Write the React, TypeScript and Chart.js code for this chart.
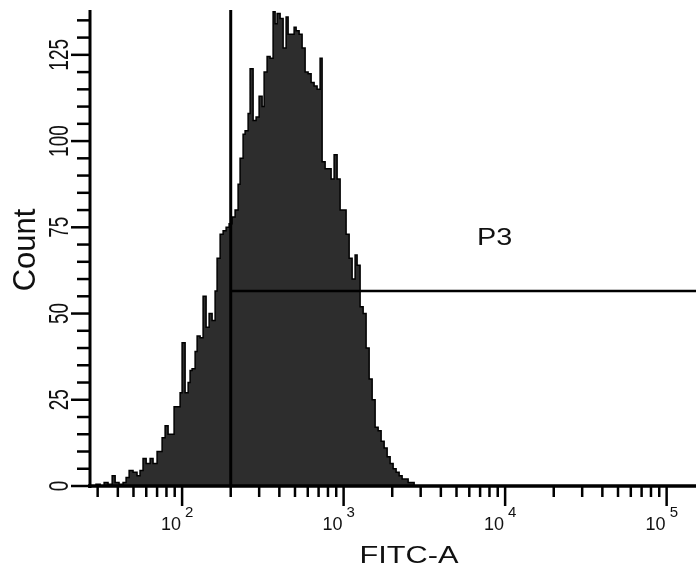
import { useEffect, useRef } from "react";
import { Chart, registerables } from "chart.js";

Chart.register(...registerables);

// FITC-A histogram: left edge of each bin (FITC units) and its event count
const fitcBinEdges = [
  27, 29.3, 31.1, 32.9, 34.8, 36.9, 38.5, 40.7, 43.1, 45, 47, 49.7, 52.6, 54.9, 57.3, 59.9,
  63.4, 66.1, 70, 72, 75.2, 78.5, 81.9, 85.5, 89.2, 93.1, 97.2, 100, 104.4, 109, 112.1, 115.3,
  120.4, 123.9, 129.3, 134.9, 140.8, 147, 153.4, 160.1, 164.7, 172, 179.5, 187.3, 195.5, 204,
  212.9, 222.2, 228.6, 238.6, 245.5, 256.3, 263.7, 275.2, 287.2, 299.8, 312.9, 322, 336, 350.7,
  366, 376.6, 387.5, 404.5, 422.1, 440.6, 453.3, 473.1, 493.8, 508.1, 530.3, 553.4, 577.6,
  602.8, 629.2, 656.6, 685.3, 715.3, 736, 768.2, 801.7, 836.8, 873.4, 911.5, 951.4, 993, 1036,
  1082, 1129, 1178, 1212, 1265, 1321, 1378, 1439, 1502, 1567, 1636, 1707, 1782, 1860, 1941,
  2026, 2114, 2207, 2303, 2404, 2509, 2618, 2733, 2852,
];
const counts = [
  0.5, 0, 0.5, 0, 1, 0.5, 3, 1, 0.5, 1, 2.5, 4.5, 4, 3, 4.5, 8,
  6.5, 8, 6.5, 10, 10, 14, 17.5, 15, 15, 23, 23, 27, 41.5, 27, 30, 33.5,
  34, 39, 43.5, 43, 55, 46, 50, 48, 56.5, 66, 73, 74, 75, 76,
  78, 80, 87.5, 95, 102, 103, 108, 121, 106, 107, 113, 110, 120, 124.5,
  124, 137.5, 134, 137, 135.5, 127, 136, 131, 131, 133, 132, 131, 127,
  120, 119.5, 117, 116, 115, 124, 94, 92, 92, 89, 96, 89, 80, 80,
  73, 66, 60, 67, 64, 52, 50, 40, 31, 25, 17, 16, 13, 11, 8.5,
  6.5, 5, 4, 3, 2, 2, 1, 1, 0,
];

// Gate P3
const gateThreshold = 200;
const gateCountLevel = 56.5;
const gateLabel = "P3";

// Axes
const xMin = 26.9;
const xMax = 152000;
const yMin = 0;
const yMax = 138;
const xDecades = [100, 1000, 10000, 100000];
const xExponents = ["2", "3", "4", "5"];
const yTickLabels = [0, 25, 50, 75, 100, 125];
const yMinorStep = 5;
const yMinorTop = 135;
const xTitle = "FITC-A";
const yTitle = "Count";

const FONT = "'Liberation Sans', Arial, Helvetica, sans-serif";

const axesPlugin = {
  id: "flowAxes",
  afterDatasetsDraw(chart: any) {
    const ctx: CanvasRenderingContext2D = chart.ctx;
    const xs = chart.scales.x;
    const ys = chart.scales.y;
    const { left, right, top, bottom } = chart.chartArea;
    const line = (x1: number, y1: number, x2: number, y2: number) => {
      ctx.beginPath();
      ctx.moveTo(x1, y1);
      ctx.lineTo(x2, y2);
      ctx.stroke();
    };
    ctx.save();
    ctx.strokeStyle = "#000";
    ctx.fillStyle = "#111";
    ctx.lineCap = "butt";

    // gate lines
    const gx = xs.getPixelForValue(gateThreshold);
    const gy = ys.getPixelForValue(gateCountLevel);
    ctx.lineWidth = 3;
    line(gx, top, gx, bottom);
    ctx.lineWidth = 2.5;
    line(gx, gy, right, gy);

    // axis lines
    ctx.lineWidth = 3;
    line(left, top, left, bottom + 2);
    ctx.lineWidth = 3.5;
    line(left - 2, bottom, right, bottom);

    // y ticks
    ctx.lineWidth = 2.5;
    for (let v = yMin; v <= yMinorTop; v += yMinorStep) {
      const py = ys.getPixelForValue(v);
      const len = v % 25 === 0 ? 19 : 13;
      line(left - len, py, left, py);
    }
    // x ticks (log decades with 2..9 minors)
    for (let e = 1; e <= 5; e++) {
      for (let d = 1; d <= 9; d++) {
        const v = d * Math.pow(10, e);
        if (v < xMin || v > xMax) continue;
        const px = xs.getPixelForValue(v);
        const len = d === 1 ? 20 : 11;
        line(px, bottom, px, bottom + len);
      }
    }

    // y tick labels (rotated)
    yTickLabels.forEach((v) => {
      const py = ys.getPixelForValue(v);
      ctx.save();
      ctx.translate(68, py);
      ctx.scale(1.45, 1);
      ctx.rotate(-Math.PI / 2);
      ctx.font = `19px ${FONT}`;
      ctx.textAlign = "center";
      ctx.textBaseline = "alphabetic";
      ctx.fillText(String(v), 0, 0);
      ctx.restore();
    });

    // x tick labels 10^n
    xDecades.forEach((v, i) => {
      const px = xs.getPixelForValue(v);
      ctx.font = `18px ${FONT}`;
      ctx.textAlign = "right";
      ctx.textBaseline = "alphabetic";
      ctx.fillText("10", px - 1, 530);
      ctx.font = `15px ${FONT}`;
      ctx.textAlign = "left";
      ctx.fillText(xExponents[i], px + 3, 517);
    });

    // axis titles
    ctx.save();
    ctx.translate(35, 250);
    ctx.rotate(-Math.PI / 2);
    ctx.font = `31px ${FONT}`;
    ctx.textAlign = "center";
    ctx.textBaseline = "alphabetic";
    ctx.fillText(yTitle, 0, 0);
    ctx.restore();

    ctx.save();
    ctx.translate(409, 563);
    ctx.scale(1.28, 1);
    ctx.font = `24px ${FONT}`;
    ctx.textAlign = "center";
    ctx.textBaseline = "alphabetic";
    ctx.fillText(xTitle, 0, 0);
    ctx.restore();

    // gate label
    ctx.save();
    ctx.translate(477, 245);
    ctx.scale(1.2, 1);
    ctx.font = `24px ${FONT}`;
    ctx.textAlign = "left";
    ctx.textBaseline = "alphabetic";
    ctx.fillText(gateLabel, 0, 0);
    ctx.restore();

    ctx.restore();
  },
};

export default function App() {
  const canvasRef = useRef<HTMLCanvasElement | null>(null);

  useEffect(() => {
    document.body.style.margin = "0";
    document.body.style.background = "#fff";
    const canvas = canvasRef.current;
    if (!canvas) return;
    const points = fitcBinEdges.map((x, i) => ({ x, y: counts[i] }));
    const chart = new Chart(canvas, {
      type: "line",
      data: {
        datasets: [
          {
            data: points,
            stepped: "after",
            fill: "origin",
            backgroundColor: "#2d2d2d",
            borderColor: "#000",
            borderWidth: 1.5,
            pointRadius: 0,
          } as any,
        ],
      },
      options: {
        responsive: false,
        animation: false,
        events: [],
        layout: { padding: { top: 10, left: 0, right: 0, bottom: 0 } },
        plugins: {
          legend: { display: false },
          tooltip: { enabled: false },
        },
        scales: {
          x: {
            type: "logarithmic",
            min: xMin,
            max: xMax,
            grid: { display: false },
            border: { display: false },
            ticks: { display: false },
            afterFit: (s: any) => {
              s.height = 82;
            },
          },
          y: {
            type: "linear",
            min: yMin,
            max: yMax,
            grid: { display: false },
            border: { display: false },
            ticks: { display: false, stepSize: yMinorStep },
            afterFit: (s: any) => {
              s.width = 90;
            },
          },
        },
      } as any,
      plugins: [axesPlugin],
    });
    return () => chart.destroy();
  }, []);

  return (
    <canvas
      ref={canvasRef}
      width={696}
      height={568}
      style={{ display: "block", width: 696, height: 568 }}
    />
  );
}
